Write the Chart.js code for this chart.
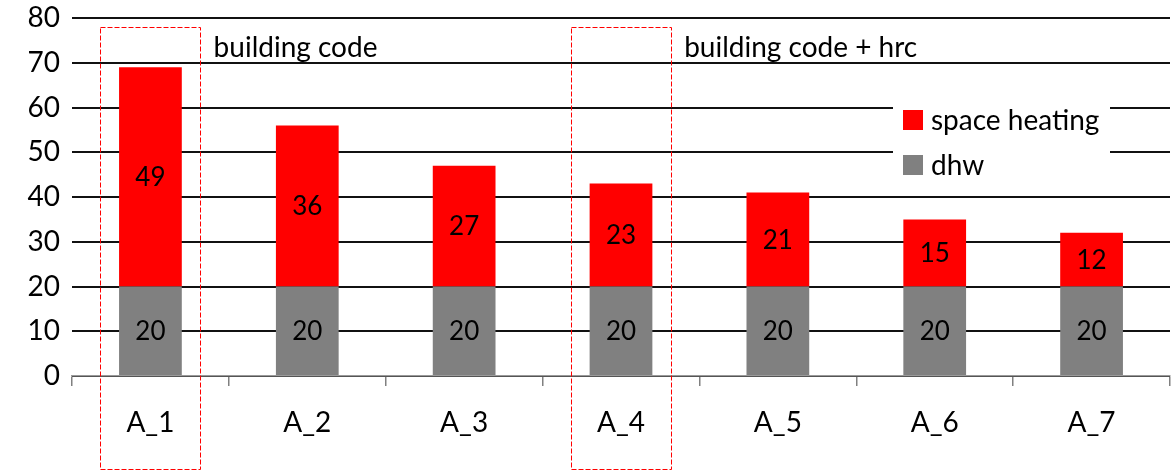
<!DOCTYPE html>
<html>
<head>
<meta charset="utf-8">
<script src="https://cdn.jsdelivr.net/npm/chart.js@4/dist/chart.umd.min.js"></script>
<style>
  html, body { margin: 0; padding: 0; background: #fff; }
  #wrap { width: 1171px; height: 471px; position: relative; }
</style>
</head>
<body>
<div id="wrap"><canvas id="c" width="1171" height="471"></canvas></div>
<script>
const categories = ['A_1', 'A_2', 'A_3', 'A_4', 'A_5', 'A_6', 'A_7'];
const dhw = [20, 20, 20, 20, 20, 20, 20];
const spaceHeating = [49, 36, 27, 23, 21, 15, 12];
const yTicks = [0, 10, 20, 30, 40, 50, 60, 70, 80];
const groupNotes = [
  { index: 0, text: 'building code' },
  { index: 3, text: 'building code + hrc' }
];

const FONT = 'Lato, "Open Sans", sans-serif';

// value labels centred in each stacked segment
const segmentLabels = {
  id: 'segmentLabels',
  afterDatasetsDraw(chart) {
    const ctx = chart.ctx;
    ctx.save();
    ctx.fillStyle = '#000';
    ctx.font = '26px ' + FONT;
    ctx.textAlign = 'center';
    ctx.textBaseline = 'middle';
    chart.data.datasets.forEach((ds, di) => {
      const meta = chart.getDatasetMeta(di);
      meta.data.forEach((bar, i) => {
        const cy = (bar.y + bar.base) / 2;
        ctx.fillText(String(ds.data[i]), bar.x, cy + 1);
      });
    });
    ctx.restore();
  }
};

// dashed outlines around the reference variants, with their captions
const groupFrames = {
  id: 'groupFrames',
  afterDraw(chart) {
    const ctx = chart.ctx;
    const xs = chart.scales.x;
    const ys = chart.scales.y;
    const step = xs.getPixelForValue(1) - xs.getPixelForValue(0);
    const halfW = step * 0.32;
    const top = ys.getPixelForValue(78);
    const bottom = chart.height - 2;
    ctx.save();
    groupNotes.forEach(g => {
      const cx = xs.getPixelForValue(g.index);
      ctx.strokeStyle = '#ff0000';
      ctx.lineWidth = 1;
      ctx.setLineDash([5, 2]);
      ctx.strokeRect(Math.round(cx - halfW) + 0.5, Math.round(top) + 0.5,
                     Math.round(halfW * 2), Math.round(bottom - top));
      ctx.setLineDash([]);
      ctx.fillStyle = '#000';
      ctx.font = '28px ' + FONT;
      ctx.textAlign = 'left';
      ctx.textBaseline = 'middle';
      ctx.fillText(g.text, cx + halfW + 13, ys.getPixelForValue(73.3));
    });
    ctx.restore();
  }
};

// legend box inside the plot area
const insideLegend = {
  id: 'insideLegend',
  afterDatasetsDraw(chart) {
    const ctx = chart.ctx;
    const ys = chart.scales.y;
    const x0 = 893, x1 = 1110;
    const yTop = ys.getPixelForValue(61.7);
    const yBot = ys.getPixelForValue(42.7);
    ctx.save();
    ctx.fillStyle = '#fff';
    ctx.fillRect(x0, yTop, x1 - x0, yBot - yTop);
    const items = [chart.data.datasets[1], chart.data.datasets[0]];
    items.forEach((ds, k) => {
      const cy = Math.round(ys.getPixelForValue(57.2 - k * 10));
      ctx.fillStyle = ds.backgroundColor;
      ctx.fillRect(903, cy - 10, 20, 20);
      ctx.fillStyle = '#000';
      ctx.font = '28px ' + FONT;
      ctx.textAlign = 'left';
      ctx.textBaseline = 'middle';
      ctx.fillText(ds.label, 931, cy + 1);
    });
    ctx.restore();
  }
};

new Chart(document.getElementById('c'), {
  type: 'bar',
  data: {
    labels: categories,
    datasets: [
      { label: 'dhw', data: dhw, backgroundColor: '#808080', borderWidth: 0 },
      { label: 'space heating', data: spaceHeating, backgroundColor: '#ff0000', borderWidth: 0 }
    ]
  },
  options: {
    responsive: false,
    animation: false,
    devicePixelRatio: 1,
    layout: { padding: { top: 18, right: 1, left: 0, bottom: 0 } },
    datasets: { bar: { categoryPercentage: 1, barPercentage: 0.4 } },
    plugins: { legend: { display: false }, tooltip: { enabled: false } },
    scales: {
      x: {
        stacked: true,
        offset: true,
        grid: {
          offset: true,
          drawOnChartArea: false,
          drawTicks: true,
          tickLength: 10,
          color: '#808080',
          lineWidth: 1.5
        },
        border: { color: '#9a9a9a', width: 1.5 },
        ticks: { color: '#000', font: { family: FONT, size: 28 }, padding: 20 },
        afterFit(s) { s.height = 95; s.paddingLeft = 0; s.paddingRight = 0; }
      },
      y: {
        stacked: true,
        min: 0,
        max: 80,
        afterBuildTicks(s) { s.ticks = yTicks.map(v => ({ value: v })); },
        grid: { color: '#111', lineWidth: 2, drawTicks: false },
        border: { display: false },
        ticks: { color: '#000', font: { family: FONT, size: 28 }, padding: 12 },
        afterFit(s) { s.width = 72; s.paddingTop = 0; s.paddingBottom = 0; }
      }
    }
  },
  plugins: [segmentLabels, insideLegend, groupFrames]
});
</script>
</body>
</html>
